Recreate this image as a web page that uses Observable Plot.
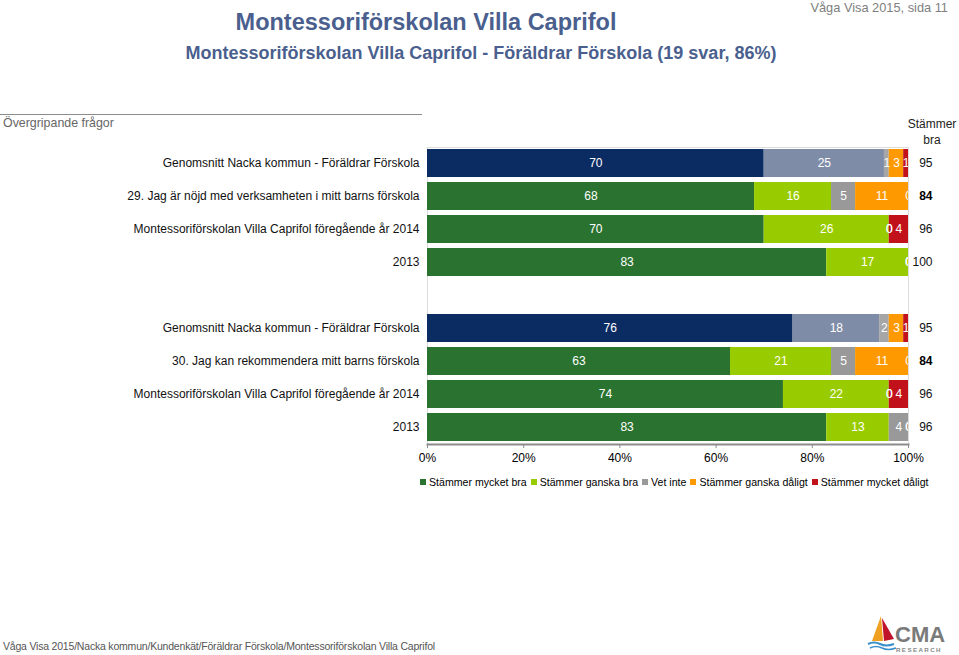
<!DOCTYPE html>
<html>
<head>
<meta charset="utf-8">
<script src="https://cdn.jsdelivr.net/npm/d3@7"></script>
<script src="https://cdn.jsdelivr.net/npm/@observablehq/plot@0.6"></script>
<style>
  body { margin: 0; background: #fff; }
  #page { position: relative; width: 959px; height: 655px; overflow: hidden;
          font-family: "Liberation Sans", Arial, sans-serif; color: #000; }
  .abs { position: absolute; white-space: nowrap; }
  #title { left: 0; width: 852px; top: 9px; text-align: center; font-size: 23.5px; font-weight: bold; color: #4a5f8e; }
  #subtitle { left: 0; width: 962px; top: 43px; text-align: center; font-size: 18px; font-weight: bold; color: #4a5f8e; }
  #page-no { right: 11px; top: 0px; font-size: 12.8px; color: #808080; }
  #rule { left: 0; top: 114px; width: 422px; height: 1px; background: #8c8c8c; }
  #section { left: 3px; top: 116px; font-size: 12.4px; color: #666; }
  #colhead { left: 905px; width: 54px; top: 116px; text-align: center; font-size: 12px; line-height: 16px; color: #222; }
  #chart { left: 0; top: 0; }
  #legend { left: 420px; top: 476px; font-size: 10.6px; color: #000; display: flex; gap: 4px; }
  #legend span.sw { display: inline-block; width: 6px; height: 6px; margin-right: 3px; vertical-align: 1px; }
  #footer { left: 3px; top: 640px; font-size: 10.5px; color: #555; letter-spacing: -0.2px; }
  #logo { left: 866px; top: 612px; }
</style>
</head>
<body>
<div id="page">
  <div id="chart" class="abs"></div>
  <div id="title" class="abs">Montessoriförskolan Villa Caprifol</div>
  <div id="subtitle" class="abs">Montessoriförskolan Villa Caprifol - Föräldrar Förskola (19 svar, 86%)</div>
  <div id="page-no" class="abs">Våga Visa 2015, sida 11</div>
  <div id="rule" class="abs"></div>
  <div id="section" class="abs">Övergripande frågor</div>
  <div id="colhead" class="abs">Stämmer<br>bra</div>
  <div id="legend" class="abs"></div>
  <div id="footer" class="abs">Våga Visa 2015/Nacka kommun/Kundenkät/Föräldrar Förskola/Montessoriförskolan Villa Caprifol</div>
  <div id="logo" class="abs">
    <svg width="92" height="42" viewBox="0 0 92 42">
      <path d="M15 4 L6 29 L17 29 Z" fill="#f0a020"/>
      <path d="M16 6 L18 29 L28 27 Z" fill="#c0142a"/>
      <path d="M2 32 Q8 29 14 32 T28 32" fill="none" stroke="#3a8fc8" stroke-width="2"/>
      <path d="M4 36 Q10 33 16 36 T30 36" fill="none" stroke="#3a8fc8" stroke-width="1.6"/>
      <text x="29" y="30" font-family="Liberation Sans, Arial" font-weight="bold" font-size="22" fill="#7a7a7a">CMA</text>
      <text x="30" y="40" font-family="Liberation Sans, Arial" font-weight="bold" font-size="6.2" letter-spacing="1.4" fill="#8a8a8a">RESEARCH</text>
    </svg>
  </div>
</div>
<script>
// ---- data ----
const rowLabels = [
  "Genomsnitt Nacka kommun - Föräldrar Förskola",
  "29. Jag är nöjd med verksamheten i mitt barns förskola",
  "Montessoriförskolan Villa Caprifol föregående år 2014",
  "2013",
  "",
  "Genomsnitt Nacka kommun - Föräldrar Förskola",
  "30. Jag kan rekommendera mitt barns förskola",
  "Montessoriförskolan Villa Caprifol föregående år 2014",
  "2013"
];
const rowKind      = ["avg", "unit", "prev", "prev", null, "avg", "unit", "prev", "prev"];
const mycketBra    = [70, 68, 70, 83, null, 76, 63, 74, 83];
const ganskaBra    = [25, 16, 26, 17, null, 18, 21, 22, 13];
const vetInte      = [1, 5, 0, 0, null, 2, 5, 0, 4];
const ganskaDaligt = [3, 11, 0, 0, null, 3, 11, 0, 0];
const mycketDaligt = [1, 0, 4, 0, null, 1, 0, 4, 0];
const stammerBra   = [95, 84, 96, 100, null, 95, 84, 96, 96];
const seriesNames  = ["Stämmer mycket bra", "Stämmer ganska bra", "Vet inte", "Stämmer ganska dåligt", "Stämmer mycket dåligt"];
const seriesColors = ["#2a7230", "#99cc00", "#999999", "#ff9900", "#c1121c"];
const averageColors = ["#0b2c63", "#7f8ca7", "#a6a6a6", "#ff9900", "#c1121c"];
const xTicks = [0, 20, 40, 60, 80, 100];

// ---- build tables ----
const series = [mycketBra, ganskaBra, vetInte, ganskaDaligt, mycketDaligt];
const segs = [];
rowLabels.forEach((_, i) => {
  if (mycketBra[i] == null) return;
  let cum = 0;
  series.forEach((arr, s) => {
    const v = arr[i];
    segs.push({row: i, series: seriesNames[s], value: v, x1: cum, x2: cum + v,
               fill: rowKind[i] === "avg" ? averageColors[s] : seriesColors[s]});
    cum += v;
  });
});
const totals = rowLabels.map((_, i) => ({row: i, value: stammerBra[i], bold: rowKind[i] === "unit"}))
  .filter(d => d.value != null);

const chart = Plot.plot({
  width: 959,
  height: 476,
  marginLeft: 427,
  marginRight: 51,
  marginTop: 147,
  marginBottom: 32,
  style: {fontFamily: "Liberation Sans, Arial, sans-serif", fontSize: "12px", color: "#000", background: "transparent"},
  x: {domain: [0, 100]},
  y: {domain: d3.range(rowLabels.length), paddingInner: 0.15, paddingOuter: 0.075},
  color: {type: "identity"},
  marks: [
    Plot.frame({stroke: "#dcdcdc"}),
    Plot.barX(segs, {y: "row", x1: "x1", x2: "x2", fill: "fill"}),
    Plot.text(segs, {y: "row", x: d => (d.x1 + d.x2) / 2, text: d => String(d.value), fill: "white", fontSize: 12, clip: true}),
    Plot.text(totals.filter(d => !d.bold), {y: "row", frameAnchor: "right", dx: 24, text: d => String(d.value), fill: "#111", fontSize: 12}),
    Plot.text(totals.filter(d => d.bold), {y: "row", frameAnchor: "right", dx: 24, text: d => String(d.value), fill: "#000", fontSize: 12, fontWeight: "bold"}),
    Plot.frame({anchor: "bottom", stroke: "#8c8c8c", strokeWidth: 2}),
    Plot.axisX({ticks: xTicks, tickFormat: d => d + "%", tickSize: 4, tickPadding: 5, stroke: "#8c8c8c", fill: "#000", fontSize: 12, label: null}),
    Plot.axisY({tickSize: 0, tickPadding: 8, tickFormat: i => rowLabels[i], fill: "#111", fontSize: 12, label: null})
  ]
});
document.getElementById("chart").appendChild(chart);

// ---- legend ----
const legend = document.getElementById("legend");
seriesNames.forEach((name, s) => {
  const item = document.createElement("span");
  item.innerHTML = `<span class="sw" style="background:${seriesColors[s]}"></span>${name}`;
  legend.appendChild(item);
});
</script>
</body>
</html>
